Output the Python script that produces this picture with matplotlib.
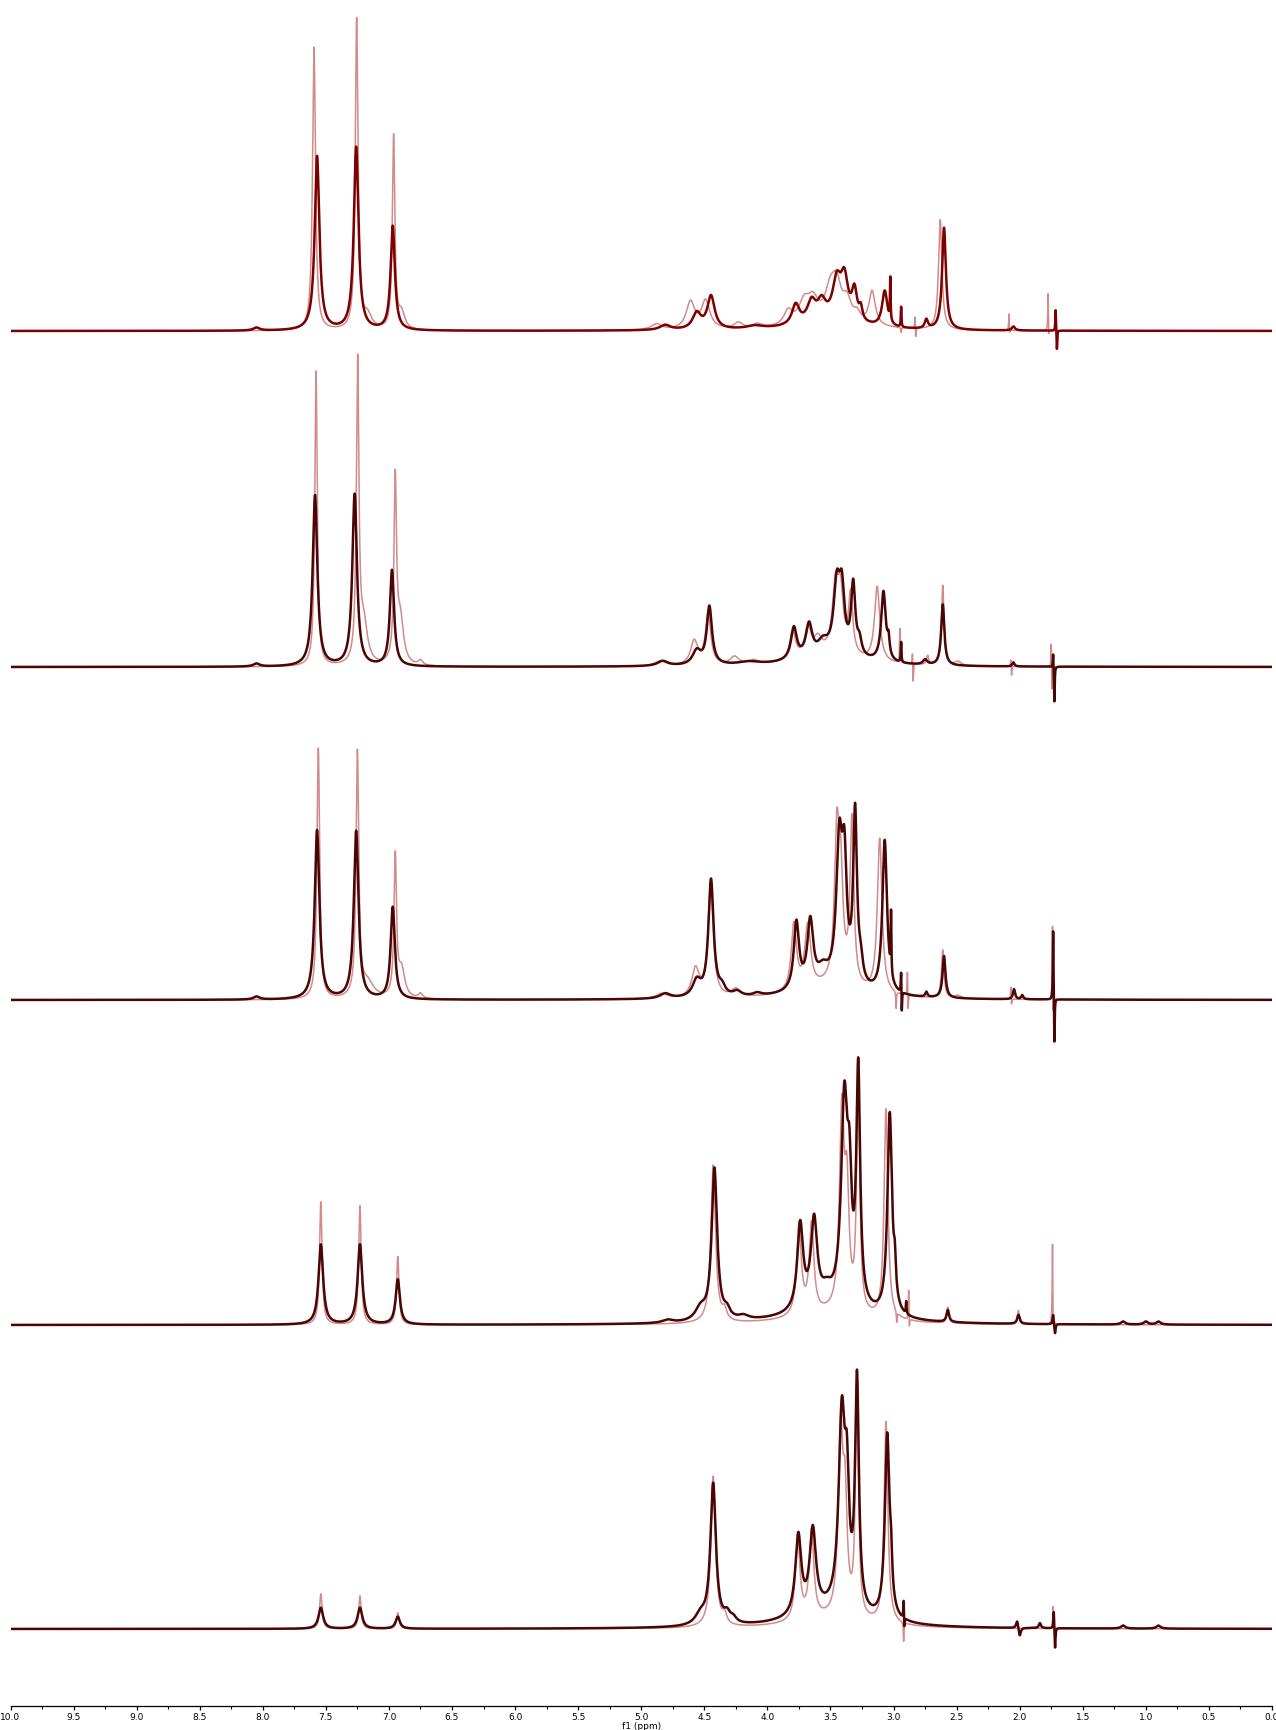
import numpy as np
import matplotlib
matplotlib.use('Agg')
import matplotlib.pyplot as plt

# Peak tables: (ppm, height, half width in ppm)
# Heights are in axis units (one unit ~ one pixel of the output image).
s1_dark = [(8.05, 3, 0.03), (7.57, 174, 0.022), (7.26, 183, 0.022), (6.97, 104, 0.02),
           (4.81, 5, 0.05), (4.56, 16, 0.04), (4.447, 33, 0.035), (4.1, 3, 0.08),
           (3.776, 20, 0.035), (3.65, 20, 0.04), (3.57, 18, 0.04), (3.45, 38, 0.04),
           (3.39, 40, 0.035), (3.31, 30, 0.025), (3.26, 12, 0.015), (3.07, 36, 0.025),
           (3.026, 42, 0.003), (2.94, 20, 0.003), (2.74, 9, 0.015), (2.60, 102, 0.018),
           (2.05, 4, 0.015), (1.715, 22, 0.003), (1.705, -20, 0.003), (3.5, 8, 0.3)]
s1_light = [(7.594, 283, 0.014), (7.256, 310, 0.013), (7.17, 14, 0.04), (6.963, 193, 0.012),
            (6.90, 16, 0.03), (4.88, 6, 0.05), (4.61, 27, 0.04), (4.49, 28, 0.04),
            (4.23, 6, 0.04), (4.08, 4, 0.04), (3.835, 14, 0.04), (3.71, 20, 0.05),
            (3.64, 20, 0.05), (3.50, 30, 0.05), (3.45, 30, 0.04), (3.37, 20, 0.04),
            (3.29, 8, 0.03), (3.17, 34, 0.03), (2.94, -5, 0.003), (2.83, 14, 0.003),
            (2.825, -12, 0.003), (2.63, 110, 0.016), (2.085, 18, 0.003), (2.08, -6, 0.003),
            (1.775, 40, 0.003), (1.77, -12, 0.003), (3.5, 8, 0.3)]

s2_dark = [(8.05, 3, 0.03), (7.586, 171, 0.022), (7.272, 172, 0.022), (6.976, 96, 0.02),
           (4.83, 5, 0.05), (4.56, 14, 0.04), (4.46, 58, 0.025), (4.15, 3, 0.1),
           (3.79, 32, 0.028), (3.67, 32, 0.03), (3.56, 12, 0.05), (3.45, 66, 0.03),
           (3.41, 58, 0.025), (3.32, 70, 0.02), (3.27, 14, 0.02), (3.08, 70, 0.022),
           (3.04, 16, 0.01), (2.94, 20, 0.003), (2.75, 5, 0.02), (2.61, 61, 0.015),
           (2.05, 4, 0.01), (1.735, 15, 0.003), (1.725, -36, 0.003), (3.5, 10, 0.3)]
s2_light = [(7.578, 295, 0.012), (7.248, 298, 0.012), (7.2, 40, 0.035), (6.95, 180, 0.012),
            (6.91, 45, 0.03), (6.75, 5, 0.02), (4.85, 5, 0.05), (4.58, 24, 0.035),
            (4.47, 52, 0.025), (4.26, 8, 0.04), (4.11, 4, 0.04), (3.80, 29, 0.028),
            (3.68, 29, 0.03), (3.60, 16, 0.04), (3.46, 66, 0.03), (3.42, 54, 0.025),
            (3.34, 60, 0.02), (3.13, 75, 0.025), (2.95, 34, 0.003), (2.85, 15, 0.003),
            (2.845, -21, 0.003), (2.73, 9, 0.01), (2.61, 80, 0.012), (2.49, 4, 0.03),
            (2.07, 9, 0.003), (2.065, -11, 0.003), (1.75, 30, 0.003), (1.745, -30, 0.003),
            (3.5, 10, 0.3)]

s3_dark = [(8.05, 3, 0.03), (7.57, 169, 0.022), (7.26, 168, 0.022), (6.97, 92, 0.02),
           (4.81, 5, 0.05), (4.56, 16, 0.04), (4.447, 117, 0.025), (4.36, 8, 0.03),
           (4.24, 5, 0.04), (4.08, 3, 0.04), (3.77, 67, 0.025), (3.66, 65, 0.028),
           (3.56, 14, 0.05), (3.43, 137, 0.028), (3.39, 107, 0.022), (3.305, 170, 0.018),
           (3.26, 18, 0.02), (3.07, 153, 0.022), (3.02, 60, 0.003), (2.94, 25, 0.003),
           (2.935, -25, 0.003), (2.74, 5, 0.01), (2.60, 42, 0.014), (2.045, 10, 0.01),
           (1.98, 4, 0.01), (1.735, 72, 0.003), (1.725, -48, 0.003), (3.5, 12, 0.3)]
s3_light = [(7.56, 251, 0.013), (7.25, 244, 0.013), (7.17, 16, 0.06), (6.95, 140, 0.012),
            (6.90, 28, 0.03), (6.75, 5, 0.02), (4.84, 5, 0.05), (4.57, 28, 0.035),
            (4.45, 112, 0.025), (4.25, 8, 0.04), (3.79, 67, 0.025), (3.68, 63, 0.028),
            (3.45, 138, 0.022), (3.42, 100, 0.022), (3.33, 165, 0.018), (3.11, 155, 0.022),
            (2.98, -17, 0.003), (2.89, 28, 0.003), (2.885, -20, 0.003), (2.61, 48, 0.012),
            (2.49, 3, 0.03), (2.07, 14, 0.003), (2.065, -8, 0.003), (1.74, 81, 0.003),
            (1.735, -30, 0.003), (3.5, 12, 0.3)]

s4_dark = [(7.54, 80, 0.022), (7.23, 80, 0.022), (6.93, 45, 0.02), (4.79, 3, 0.05),
           (4.53, 12, 0.05), (4.42, 152, 0.026), (4.32, 8, 0.03), (4.19, 4, 0.05),
           (3.74, 85, 0.028), (3.63, 85, 0.03), (3.53, 12, 0.05), (3.39, 200, 0.03),
           (3.35, 95, 0.02), (3.28, 232, 0.018), (3.03, 202, 0.022), (2.99, 30, 0.01),
           (2.90, 12, 0.003), (2.57, 12, 0.012), (2.01, 9, 0.012), (1.735, 10, 0.005),
           (1.72, -10, 0.005), (1.18, 3, 0.02), (1.0, 3, 0.02), (0.9, 3, 0.02),
           (3.5, 16, 0.35)]
s4_light = [(7.54, 123, 0.012), (7.23, 119, 0.012), (6.93, 68, 0.012), (4.43, 158, 0.022),
            (4.34, 10, 0.02), (3.75, 91, 0.022), (3.65, 89, 0.022), (3.41, 195, 0.022),
            (3.37, 110, 0.02), (3.28, 248, 0.014), (3.06, 210, 0.018), (2.975, -11, 0.003),
            (2.88, 33, 0.003), (2.875, -14, 0.003), (2.57, 16, 0.01), (2.01, 14, 0.008),
            (1.74, 84, 0.003), (1.735, -15, 0.003), (3.5, 10, 0.35)]

s5_dark = [(7.54, 21, 0.022), (7.23, 21, 0.022), (6.93, 12, 0.02), (4.53, 10, 0.05),
           (4.43, 141, 0.026), (4.32, 9, 0.03), (4.27, 5, 0.03), (3.755, 79, 0.028),
           (3.64, 81, 0.03), (3.41, 190, 0.03), (3.37, 100, 0.02), (3.29, 228, 0.018),
           (3.05, 184, 0.022), (3.02, 32, 0.01), (2.92, 20, 0.003), (2.915, -13, 0.003),
           (2.02, 8, 0.01), (2.0, -9, 0.01), (1.84, 5, 0.01), (1.73, 19, 0.004),
           (1.72, -22, 0.004), (1.18, 3, 0.02), (0.9, 3, 0.02), (3.5, 16, 0.35)]
s5_light = [(7.54, 35, 0.012), (7.23, 33, 0.012), (6.93, 16, 0.012), (4.43, 151, 0.022),
            (4.34, 10, 0.02), (3.76, 83, 0.022), (3.65, 87, 0.022), (3.42, 175, 0.022),
            (3.385, 105, 0.02), (3.29, 240, 0.014), (3.06, 202, 0.018), (2.92, -19, 0.003),
            (1.735, 22, 0.003), (3.5, 9, 0.35)]

# vertical offset of each spectrum (top to bottom)
offsets = [1375, 1039, 706, 381, 77]
dark_colors = ['#7d0000', '#4a0505', '#4a0505', '#4a0505', '#4a0505']
light_color = '#cc7f7f'

ppm = np.linspace(10.0, 0.0, 40001)


def spectrum(peaks):
    y = np.zeros_like(ppm)
    for pos, h, hw in peaks:
        y += h / (1 + ((ppm - pos) / hw) ** 2)
    return y


pairs = [(s1_dark, s1_light), (s2_dark, s2_light), (s3_dark, s3_light),
         (s4_dark, s4_light), (s5_dark, s5_light)]

fig = plt.figure(figsize=(12.76, 17.31), dpi=100)
ax = fig.add_axes([10.5 / 1276, 24 / 1731, 1261.5 / 1276, 1707 / 1731])

for (dark, light), off, dc in zip(pairs, offsets, dark_colors):
    ax.plot(ppm, spectrum(light) + off, color=light_color, lw=1.1, alpha=0.9)
    ax.plot(ppm, spectrum(dark) + off, color=dc, lw=1.8)

ax.set_xlim(10, 0)
ax.set_ylim(0, 1707)
for side in ['left', 'right', 'top']:
    ax.spines[side].set_visible(False)
ax.spines['bottom'].set_linewidth(0.9)
ax.set_yticks([])
ax.set_xticks(np.arange(0, 10.01, 0.5))
ax.set_xticklabels([f'{v:.1f}' for v in np.arange(0, 10.01, 0.5)])
ax.set_xticks(np.arange(0.25, 10, 0.5), minor=True)
ax.tick_params(axis='x', which='major', length=3, width=0.9, labelsize=6.5, pad=1)
ax.tick_params(axis='x', which='minor', length=2, width=0.8)
ax.set_xlabel('f1 (ppm)', fontsize=6.5, labelpad=0)

plt.savefig('out.png', dpi=100)
plt.close()
